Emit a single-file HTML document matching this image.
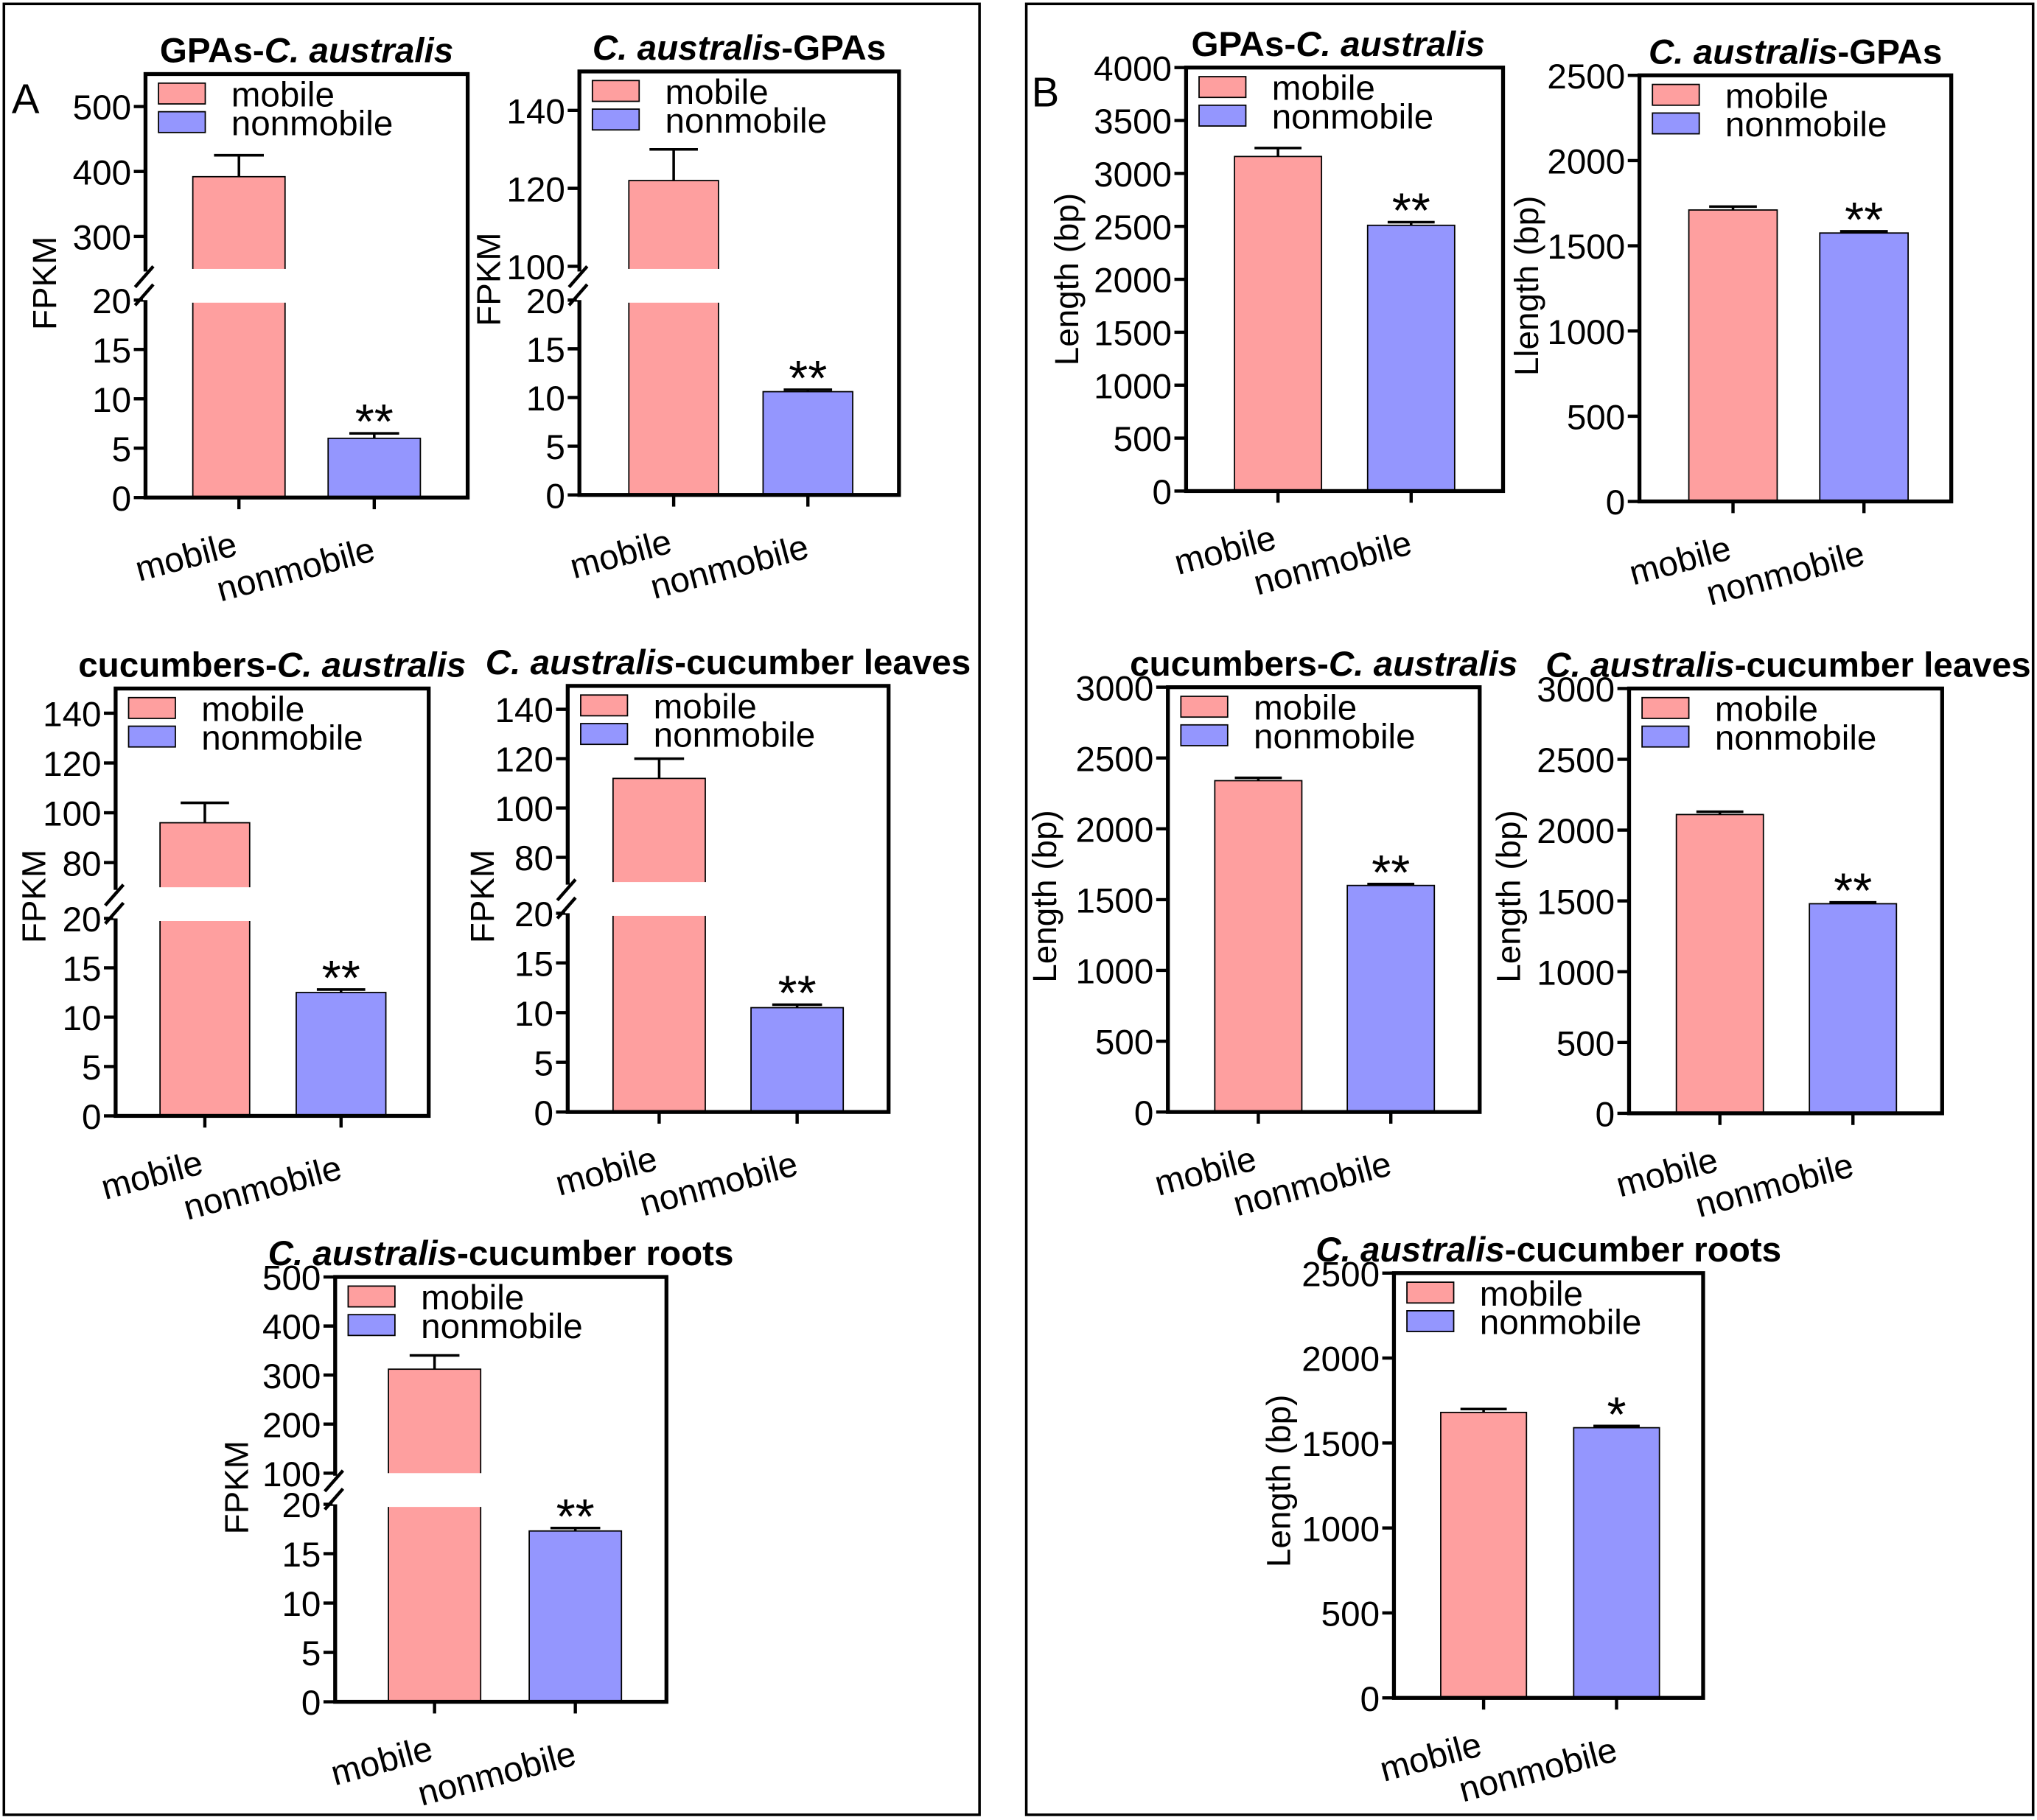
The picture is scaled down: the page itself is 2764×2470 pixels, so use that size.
<!DOCTYPE html>
<html><head><meta charset="utf-8"><style>html,body{margin:0;padding:0;background:#fff}svg{display:block}text{font-family:"Liberation Sans",sans-serif}</style></head>
<body>
<svg id="c" xmlns="http://www.w3.org/2000/svg" width="2764" height="2470" viewBox="0 0 1568 1401" preserveAspectRatio="none">
<rect x="0" y="0" width="1568" height="1401" fill="#fff"/>
<rect x="3" y="3" width="751" height="1394" fill="none" stroke="#000" stroke-width="2"/>
<rect x="790" y="3" width="775" height="1394" fill="none" stroke="#000" stroke-width="2"/>
<text x="9" y="87" font-size="32">A</text>
<text x="794" y="82" font-size="32">B</text>
</svg>
<script>
const categories = ['mobile','nonmobile'];
// FPKM panels (A)
const a1Values = [392, 6.0];  const a1Errors = [425, 6.5];
const a2Values = [122, 10.6]; const a2Errors = [130, 10.8];
const a3Values = [96, 12.5];  const a3Errors = [104, 12.8];
const a4Values = [112, 10.5]; const a4Errors = [120, 10.8];
const a5Values = [312, 17.3]; const a5Errors = [340, 17.6];
const lowerTicks = [0, 5, 10, 15, 20];
const a1UpperTicks = [300, 400, 500];
const a2UpperTicks = [100, 120, 140];
const a3UpperTicks = [80, 100, 120, 140];
const a4UpperTicks = [80, 100, 120, 140];
const a5UpperTicks = [100, 200, 300, 400, 500];
const a1Signif = ['', '**']; const a2Signif = ['', '**']; const a3Signif = ['', '**']; const a4Signif = ['', '**']; const a5Signif = ['', '**'];
// Length panels (B)
const b1Values = [3160, 2510]; const b1Errors = [3240, 2540];
const b2Values = [1710, 1575]; const b2Errors = [1730, 1585];
const b3Values = [2340, 1600]; const b3Errors = [2360, 1610];
const b4Values = [2110, 1480]; const b4Errors = [2130, 1490];
const b5Values = [1680, 1590]; const b5Errors = [1700, 1600];
const b1Ticks = [0,500,1000,1500,2000,2500,3000,3500,4000];
const b2Ticks = [0,500,1000,1500,2000,2500];
const b3Ticks = [0,500,1000,1500,2000,2500,3000];
const b4Ticks = [0,500,1000,1500,2000,2500,3000];
const b5Ticks = [0,500,1000,1500,2000,2500];
const b1Signif = ['', '**']; const b2Signif = ['', '**']; const b3Signif = ['', '**']; const b4Signif = ['', '**']; const b5Signif = ['', '*'];

const NS = 'http://www.w3.org/2000/svg';
const svg = document.getElementById('c');
const colors = ['#fe9f9f', '#9496fe'];
const FS = 27;
function mk(tag, attrs, parent, text) {
  const e = document.createElementNS(NS, tag);
  for (const k in attrs) e.setAttribute(k, attrs[k]);
  if (text !== undefined) e.textContent = text;
  (parent || svg).appendChild(e);
  return e;
}

function drawPanel(p) {
  const g = mk('g', {});
  
  
  const L = p.frame[0], T = p.frame[1], R = p.frame[2], B = p.frame[3];
  let y;
  if (p.broken) {
    const ly20 = p.lowY20, up = p.upperTicks;
    const uTop = up[up.length - 1], uBot = up[0];
    y = v => v <= 20 ? B - (v / 20) * (B - ly20) : p.upY0 - (v - uBot) / (uTop - uBot) * (p.upY0 - p.upTopY);
  } else {
    const mx = p.ticks[p.ticks.length - 1];
    y = v => B - v / mx * (B - T);
  }
  const centers = [L + (R - L) * p.c0, L + (R - L) * p.c1];
  const bw = p.bw;
  const gt = p.broken ? p.lowY20 - 24 : 0, gb = p.broken ? p.lowY20 + 2 : 0;
  for (let i = 0; i < categories.length; i++) {
    const cx = centers[i], v = p.values[i], ev = p.errors[i];
    const bt = y(v);
    const bar = mk('rect', { x: cx - bw / 2, y: bt, width: bw, height: B - bt, fill: colors[i], stroke: '#000', 'stroke-width': 1 }, g);
    
    
    if (p.broken && bt < gt) {
      mk('rect', { x: cx - bw / 2 - 1, y: gt, width: bw + 2, height: gb - gt, fill: '#fff' }, g);
    }
    const et = y(ev);
    const eb = mk('path', { d: `M${cx} ${bt}V${et}M${cx - bw * 0.27} ${et}H${cx + bw * 0.27}`, stroke: '#000', 'stroke-width': 2, fill: 'none' }, g);
    
    
    if (p.signif[i]) {
      const s = mk('text', { x: cx, y: et + 4, 'font-size': 38, 'text-anchor': 'middle' }, g, p.signif[i]);
      
      
    }
    mk('line', { x1: cx, y1: B, x2: cx, y2: B + 9, stroke: '#000', 'stroke-width': 2.5 }, g);
    const tx = cx + (i === 0 ? 0 : 2), ty = B + (i === 0 ? 44 : 48);
    const xl = mk('text', { x: tx, y: ty, 'font-size': FS, 'text-anchor': 'end', transform: `rotate(-15 ${tx} ${ty})` }, g, categories[i]);
    
    
  }
  const fr = mk('rect', { x: L, y: T, width: R - L, height: B - T, fill: 'none', stroke: '#000', 'stroke-width': 3 }, g);
  
  
  const tickList = p.broken ? lowerTicks.concat(p.upperTicks) : p.ticks;
  tickList.forEach(t => {
    const ty = y(t);
    mk('line', { x1: L - 9, y1: ty, x2: L, y2: ty, stroke: '#000', 'stroke-width': 2.5 }, g);
    const tl = mk('text', { x: L - 11, y: ty + 10, 'font-size': FS, 'text-anchor': 'end' }, g, String(t));
    
    
  });
  if (p.broken) {
    mk('rect', { x: L - 2, y: gt + 2, width: 4, height: gb - gt - 4, fill: '#fff' }, g);
    const br = mk('path', { d: `M${L - 8} ${gt + 14}L${L + 6} ${gt - 2}M${L - 8} ${gb + 2}L${L + 6} ${gb - 14}`, stroke: '#000', 'stroke-width': 2.5, fill: 'none' }, g);
    
    
  }
  const yl = mk('text', { x: p.ylab[0], y: p.ylab[1], 'font-size': 26, 'text-anchor': 'middle', transform: `rotate(-90 ${p.ylab[0]} ${p.ylab[1]})` }, g, p.ytitle);
  
  
  const tt = mk('text', { x: (L + R) / 2 + (p.tdx || 0), y: T - 9, 'font-size': FS, 'font-weight': 'bold', 'text-anchor': 'middle' }, g);
  
  
  p.title.forEach(part => { mk('tspan', part[1] ? { 'font-style': 'italic' } : {}, tt, part[0]); });
  for (let i = 0; i < 2; i++) {
    const ly = T + 7 + i * 22;
    const sw = mk('rect', { x: L + 10, y: ly, width: 36, height: 16, fill: colors[i], stroke: '#000', 'stroke-width': 1 }, g);
    
    
    const lt = mk('text', { x: L + 66, y: ly + 18, 'font-size': FS }, g, categories[i]);
    
    
  }
}
const tGC = [['GPAs-',0],['C. australis',1]];
const tCG = [['C. australis',1],['-GPAs',0]];
const tCuC = [['cucumbers-',0],['C. australis',1]];
const tCL = [['C. australis',1],['-cucumber leaves',0]];
const tCR = [['C. australis',1],['-cucumber roots',0]];
const panels = [
 {name:'chart-a1',broken:true,frame:[112,57,360,383],lowY20:231,upY0:182,upTopY:82,upperTicks:a1UpperTicks,values:a1Values,errors:a1Errors,signif:a1Signif,c0:0.29,c1:0.71,bw:71,ylab:[43,218],ytitle:'FPKM',title:tGC},
 {name:'chart-a2',broken:true,frame:[446,55,692,381],lowY20:231,upY0:205,upTopY:85,upperTicks:a2UpperTicks,values:a2Values,errors:a2Errors,signif:a2Signif,c0:0.295,c1:0.715,bw:69,ylab:[385,215],ytitle:'FPKM',title:tCG},
 {name:'chart-a3',broken:true,frame:[89,530,330,859],lowY20:707,upY0:664,upTopY:549,upperTicks:a3UpperTicks,values:a3Values,errors:a3Errors,signif:a3Signif,c0:0.285,c1:0.72,bw:69,ylab:[35,690],ytitle:'FPKM',title:tCuC},
 {name:'chart-a4',broken:true,frame:[437,528,684,856],lowY20:703,upY0:660,upTopY:546,upperTicks:a4UpperTicks,values:a4Values,errors:a4Errors,signif:a4Signif,c0:0.285,c1:0.715,bw:71,ylab:[380,690],ytitle:'FPKM',title:tCL},
 {name:'chart-a5',broken:true,frame:[258,983,513,1310],lowY20:1158,upY0:1134,upTopY:983,upperTicks:a5UpperTicks,values:a5Values,errors:a5Errors,signif:a5Signif,c0:0.3,c1:0.725,bw:71,ylab:[191,1145],ytitle:'FPKM',title:tCR},
 {name:'chart-b1',broken:false,frame:[913,52,1157,378],ticks:b1Ticks,values:b1Values,errors:b1Errors,signif:b1Signif,c0:0.29,c1:0.71,bw:67,ylab:[830,215],ytitle:'Length (bp)',title:tGC,tdx:-5},
 {name:'chart-b2',broken:false,frame:[1262,58,1502,386],ticks:b2Ticks,values:b2Values,errors:b2Errors,signif:b2Signif,c0:0.3,c1:0.72,bw:68,ylab:[1184,220],ytitle:'Llength (bp)',title:tCG},
 {name:'chart-b3',broken:false,frame:[899,529,1139,856],ticks:b3Ticks,values:b3Values,errors:b3Errors,signif:b3Signif,c0:0.29,c1:0.715,bw:67,ylab:[813,690],ytitle:'Length (bp)',title:tCuC,tdx:0},
 {name:'chart-b4',broken:false,frame:[1254,530,1495,857],ticks:b4Ticks,values:b4Values,errors:b4Errors,signif:b4Signif,c0:0.29,c1:0.715,bw:67,ylab:[1170,690],ytitle:'Length (bp)',title:tCL,tdx:2},
 {name:'chart-b5',broken:false,frame:[1073,980,1311,1307],ticks:b5Ticks,values:b5Values,errors:b5Errors,signif:b5Signif,c0:0.29,c1:0.72,bw:66,ylab:[993,1140],ytitle:'Length (bp)',title:tCR}
];
panels.forEach(drawPanel);
</script>
</body></html>
